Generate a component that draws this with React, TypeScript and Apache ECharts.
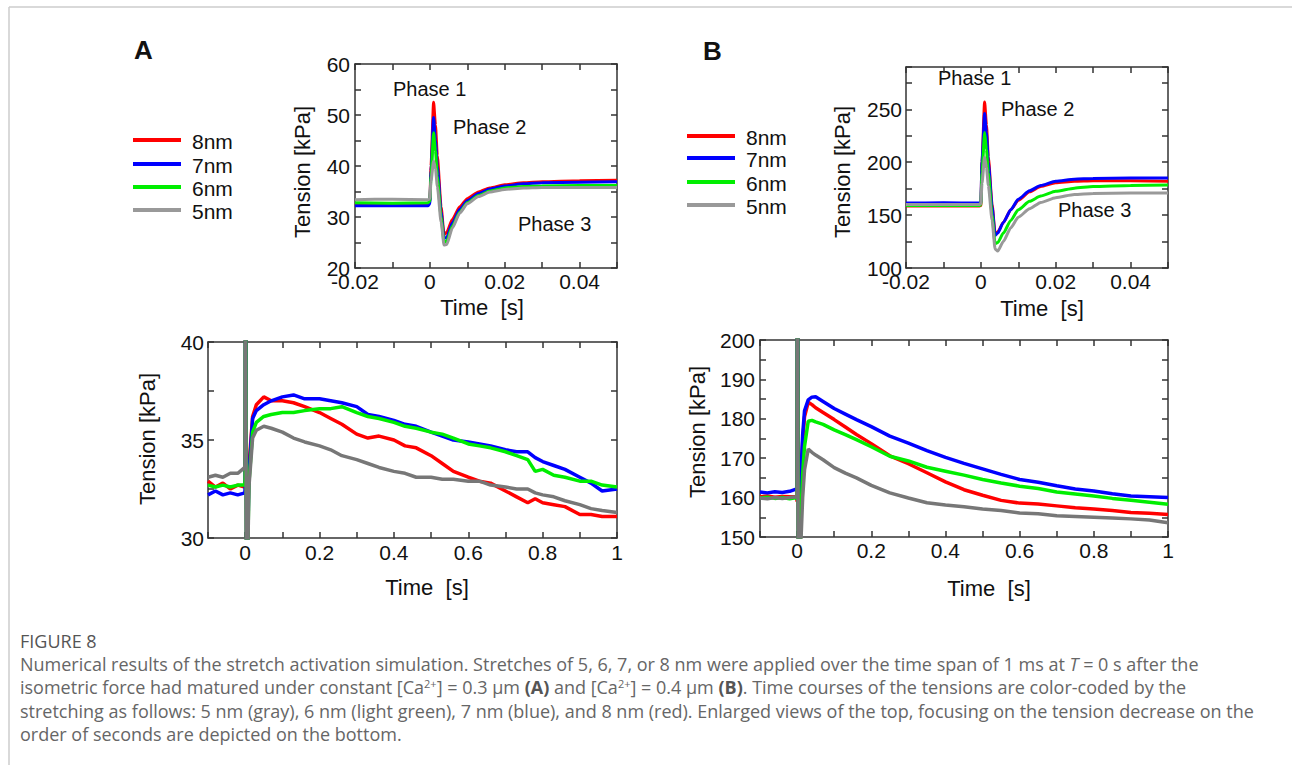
import React, { useEffect, useRef } from 'react';
import * as echarts from 'echarts';

const FONT = '"Liberation Sans", Arial, Helvetica, sans-serif';
const CAP_FONT = '"Open Sans", "Noto Sans", sans-serif';

const seriesNames = ['8nm', '7nm', '6nm', '5nm'];
const topColors = ['#ff0000', '#0000ff', '#00ee00', '#999999'];
const botColors = ['#ff0000', '#0000ff', '#00ee00', '#777777'];

// ---- top panels (short time scale, seconds) ----
const topTime = [-0.02, -0.01, -0.0005, 0, 0.0003, 0.001, 0.0015, 0.002, 0.003, 0.0038, 0.0045, 0.006, 0.008, 0.01, 0.013, 0.016, 0.02, 0.025, 0.03, 0.04, 0.05];
const topA8 = [32.5, 32.6, 32.5, 33.0, 40, 52.5, 48, 42, 32, 26.5, 27, 29.5, 32, 33.6, 34.9, 35.7, 36.3, 36.7, 36.9, 37.1, 37.2];
const topA7 = [32.2, 32.2, 32.2, 32.6, 39, 49.5, 45, 40, 31, 25.8, 26, 28.8, 31.5, 33.2, 34.6, 35.5, 36.1, 36.5, 36.7, 36.8, 36.9];
const topA6 = [32.8, 32.7, 32.8, 33.1, 38, 46.5, 43, 38, 30, 25, 25.3, 28.2, 31, 32.8, 34.2, 35.1, 35.7, 36.0, 36.1, 36.2, 36.2];
const topA5 = [33.4, 33.5, 33.4, 33.6, 37, 41, 39.5, 36, 29, 24.5, 24.6, 27.8, 30.8, 32.6, 34.0, 34.9, 35.4, 35.7, 35.8, 35.8, 35.8];

const topB8 = [158.5, 158.6, 158.5, 159, 200, 257, 235, 205, 160, 133, 134, 143, 155, 164, 172, 177, 180.5, 182, 182.5, 182.5, 182];
const topB7 = [161.5, 161.6, 161.5, 162, 200, 246, 228, 200, 158, 131, 133, 143, 155, 165, 173, 178, 182, 184, 184.5, 185, 185];
const topB6 = [159, 159, 159, 159.5, 190, 228, 212, 190, 150, 123, 124, 133, 145, 155, 163, 168, 172.5, 175.5, 177, 178, 178.5];
const topB5 = [160, 160.1, 160, 160.5, 180, 205, 195, 178, 145, 118, 116, 125, 138, 148, 156, 162, 166.5, 169.5, 170.5, 171, 171];

// ---- bottom panel A (long time scale) ----
const botTimeA = [-0.1, -0.08, -0.06, -0.04, -0.02, -0.001, 0, 0.001, 0.002, 0.004, 0.006, 0.01, 0.02, 0.03, 0.05, 0.07, 0.1, 0.13, 0.16, 0.2, 0.23, 0.26, 0.3, 0.33, 0.36, 0.4, 0.43, 0.46, 0.5, 0.53, 0.56, 0.6, 0.63, 0.66, 0.7, 0.73, 0.76, 0.78, 0.8, 0.83, 0.86, 0.9, 0.93, 0.96, 1.0];
const botA8 = [32.9, 32.6, 32.8, 32.5, 32.7, 32.6, 33.0, 52, 42, 26.8, 29.5, 33.6, 36.2, 36.8, 37.2, 37.0, 37.0, 36.9, 36.7, 36.4, 36.1, 35.8, 35.3, 35.1, 35.2, 35.0, 34.7, 34.6, 34.2, 33.8, 33.4, 33.1, 32.9, 32.8, 32.4, 32.1, 31.8, 32.0, 31.8, 31.7, 31.6, 31.2, 31.2, 31.1, 31.1];
const botA7 = [32.2, 32.4, 32.2, 32.3, 32.2, 32.3, 32.6, 49.5, 40, 26, 28.8, 33.2, 36.1, 36.5, 36.8, 37.0, 37.2, 37.3, 37.1, 37.1, 37.0, 36.9, 36.7, 36.3, 36.2, 36.0, 35.8, 35.7, 35.4, 35.2, 35.0, 34.9, 34.8, 34.7, 34.5, 34.4, 34.4, 34.1, 33.9, 33.7, 33.5, 33.1, 32.8, 32.4, 32.5];
const botA6 = [32.7, 32.6, 32.7, 32.6, 32.7, 32.7, 33.1, 46.5, 38, 25.2, 28.2, 32.8, 35.4, 35.9, 36.2, 36.3, 36.4, 36.4, 36.5, 36.6, 36.6, 36.7, 36.4, 36.2, 36.1, 35.9, 35.7, 35.6, 35.4, 35.3, 35.1, 34.8, 34.7, 34.6, 34.4, 34.2, 34.0, 33.4, 33.5, 33.2, 33.1, 32.9, 32.9, 32.7, 32.6];
const botA5 = [33.1, 33.2, 33.1, 33.3, 33.3, 33.6, 33.8, 41, 36, 24.5, 27.8, 32.6, 35.1, 35.5, 35.7, 35.6, 35.4, 35.1, 34.9, 34.7, 34.5, 34.2, 34.0, 33.8, 33.6, 33.4, 33.3, 33.1, 33.1, 33.0, 33.0, 32.9, 32.9, 32.7, 32.6, 32.5, 32.5, 32.3, 32.2, 32.1, 31.9, 31.7, 31.5, 31.4, 31.3];

// ---- bottom panel B (long time scale) ----
const botTimeB = [-0.1, -0.08, -0.06, -0.04, -0.02, -0.001, 0, 0.001, 0.002, 0.004, 0.006, 0.01, 0.015, 0.02, 0.03, 0.04, 0.05, 0.07, 0.1, 0.13, 0.16, 0.2, 0.25, 0.3, 0.35, 0.4, 0.45, 0.5, 0.55, 0.6, 0.65, 0.7, 0.75, 0.8, 0.85, 0.9, 0.95, 1.0];
const botB8 = [160.2, 160.4, 160.1, 160.3, 160.2, 160.3, 159, 257, 205, 133, 143, 164, 174, 180.5, 184.2, 183.6, 182.8, 181.6, 179.8, 177.9, 176, 173.7, 170.6, 168.6, 166.3, 164, 162, 160.6, 159.3, 158.6, 158.4, 157.9, 157.4, 157.1, 156.7, 156.2, 156, 155.7];
const botB7 = [161.4, 161.2, 161.5, 161.3, 161.6, 162.2, 162, 246, 200, 131, 143, 165, 176, 182, 184.8, 185.5, 185.6, 184.4, 182.6, 181.2, 179.8, 178, 175.6, 173.8, 171.9, 170.2, 168.7, 167.3, 165.9, 164.6, 163.9, 163, 162.2, 161.7, 161, 160.4, 160.2, 160];
const botB6 = [159.9, 160.1, 159.8, 160, 159.7, 160, 159.5, 228, 190, 123, 133, 155, 166, 173, 179.4, 179.6, 179.2, 178.6, 177.2, 176, 174.7, 172.9, 170.5, 169.3, 167.7, 166.7, 165.7, 164.6, 163.7, 162.9, 162.3, 161.4, 160.9, 160.4, 159.8, 159.3, 158.8, 158.3];
const botB5 = [159.9, 159.7, 160, 159.8, 160, 160.2, 160.5, 205, 178, 116, 125, 148, 160, 167, 172.3, 171.5, 170.8, 169.6, 167.6, 166.2, 165, 163.1, 161.2, 159.9, 158.7, 158.1, 157.7, 157.1, 156.7, 156.1, 155.9, 155.4, 155.2, 155, 154.8, 154.6, 154.3, 153.6];

const captionTitle = 'FIGURE 8';
const captionLines = [
  'Numerical results of the stretch activation simulation. Stretches of 5, 6, 7, or 8 nm were applied over the time span of 1 ms at {i|T} = 0 s after the',
  'isometric force had matured under constant [Ca{sup|2+}] = 0.3 μm {b|(A)} and [Ca{sup|2+}] = 0.4 μm {b|(B)}. Time courses of the tensions are color-coded by the',
  'stretching as follows: 5 nm (gray), 6 nm (light green), 7 nm (blue), and 8 nm (red). Enlarged views of the top, focusing on the tension decrease on the',
  'order of seconds are depicted on the bottom.',
];

const grids = [
  { left: 355, top: 64, width: 262, height: 204 },
  { left: 906, top: 67, width: 262, height: 201 },
  { left: 208, top: 342, width: 409, height: 196 },
  { left: 760, top: 340, width: 408, height: 197 },
];

const AX = '#333333';

function fmtTopX(v: number) {
  const k = Math.round(v * 100);
  if (k % 2 !== 0) return '';
  return k === 0 ? '0' : (k / 100).toFixed(2);
}
function fmtBotX(v: number) {
  const k = Math.round(v * 10);
  if (k < 0 || k % 2 !== 0) return '';
  if (k === 0) return '0';
  if (k === 10) return '1';
  return (k / 10).toFixed(1);
}
function stepFmt(step: number, maxLabel: number) {
  return (v: number) => {
    const r = Math.round(v / step) * step;
    if (Math.abs(r - v) > 1e-6 || v > maxLabel + 1e-6) return '';
    return String(Math.round(v));
  };
}

function axisBase(gi: number, min: number, max: number, interval: number) {
  return {
    type: 'value',
    gridIndex: gi,
    min,
    max,
    interval,
    splitLine: { show: false },
    axisLine: { show: true, onZero: false, lineStyle: { color: AX, width: 1.5 } },
    axisTick: { show: true, inside: true, length: 6, lineStyle: { color: AX, width: 1.5 } },
  };
}

function xPair(gi: number, min: number, max: number, interval: number, fmt: (v: number) => string, margin: number) {
  const b = axisBase(gi, min, max, interval);
  return [
    { ...b, position: 'bottom', axisLabel: { show: true, margin, fontSize: 21, fontFamily: FONT, color: '#111', formatter: fmt } },
    { ...b, position: 'top', axisLabel: { show: false } },
  ];
}
function yPair(gi: number, min: number, max: number, interval: number, fmt: (v: number) => string, margin: number) {
  const b = axisBase(gi, min, max, interval);
  return [
    { ...b, position: 'left', axisLabel: { show: true, margin, fontSize: 21, fontFamily: FONT, color: '#111', formatter: fmt } },
    { ...b, position: 'right', axisLabel: { show: false } },
  ];
}

function mkSeries(gi: number, time: number[], vals: number[][], colors: string[], width: number, smooth: number) {
  return vals.map((arr, si) => ({
    type: 'line',
    name: seriesNames[si],
    xAxisIndex: 2 * gi,
    yAxisIndex: 2 * gi,
    data: time.map((t, i) => [t, arr[i]]),
    showSymbol: false,
    symbol: 'none',
    clip: true,
    smooth,
    smoothMonotone: 'x',
    lineStyle: { color: colors[si], width },
    itemStyle: { color: colors[si] },
    z: 2 + si,
  }));
}

function txt(text: string, x: number, y: number, size: number, opts: any = {}) {
  return {
    type: 'text',
    x,
    y,
    rotation: opts.rotation || 0,
    style: {
      text,
      fontSize: size,
      fontFamily: opts.family || FONT,
      fontWeight: opts.weight || 'normal',
      fill: opts.fill || '#111',
      align: opts.align || 'left',
      verticalAlign: 'middle',
      rich: opts.rich,
    },
  };
}

function legend(x0: number, x1: number, tx: number, ys: number[]) {
  const els: any[] = [];
  ys.forEach((y, i) => {
    els.push({ type: 'line', shape: { x1: x0, y1: y, x2: x1, y2: y }, style: { stroke: topColors[i], lineWidth: 4 } });
    els.push(txt(seriesNames[i], tx, y + 1, 21));
  });
  return els;
}

export default function App() {
  const ref = useRef<HTMLDivElement>(null);
  useEffect(() => {
    document.body.style.margin = '0';
    const chart = echarts.init(ref.current!, null, { renderer: 'svg' });

    const xAxis = [
      ...xPair(0, -0.02, 0.05, 0.01, fmtTopX, 3),
      ...xPair(1, -0.02, 0.05, 0.01, fmtTopX, 3),
      ...xPair(2, -0.1, 1, 0.1, fmtBotX, 4),
      ...xPair(3, -0.1, 1, 0.1, fmtBotX, 3),
    ];
    const yAxis = [
      ...yPair(0, 20, 60, 5, stepFmt(10, 60), 5),
      ...yPair(1, 100, 290, 25, stepFmt(50, 250), 4),
      ...yPair(2, 30, 40, 2.5, stepFmt(5, 40), 4),
      ...yPair(3, 150, 200, 5, stepFmt(10, 200), 5),
    ];

    const series = [
      ...mkSeries(0, topTime, [topA8, topA7, topA6, topA5], topColors, 3, 0.2),
      ...mkSeries(1, topTime, [topB8, topB7, topB6, topB5], topColors, 3, 0.2),
      ...mkSeries(2, botTimeA, [botA8, botA7, botA6, botA5], botColors, 3.5, 0),
      ...mkSeries(3, botTimeB, [botB8, botB7, botB6, botB5], botColors, 3.5, 0),
    ];

    const CS = 18;
    const capRich = {
      sup: { fontSize: 11, fontFamily: CAP_FONT, fill: '#666', verticalAlign: 'top', padding: [0, 0, 7, 0] },
      b: { fontSize: CS, fontFamily: CAP_FONT, fill: '#555', fontWeight: 'bold' },
      i: { fontSize: CS, fontFamily: CAP_FONT, fill: '#666', fontStyle: 'italic' },
    };

    const graphic: any[] = [
      // page frame
      { type: 'line', shape: { x1: 9, y1: 7, x2: 1292, y2: 7 }, style: { stroke: '#cccccc', lineWidth: 1.5 } },
      { type: 'line', shape: { x1: 9, y1: 7, x2: 9, y2: 765 }, style: { stroke: '#cccccc', lineWidth: 1.5 } },
      // panel letters
      txt('A', 134, 50, 26, { weight: 'bold' }),
      txt('B', 703, 51, 26, { weight: 'bold' }),
      // legends
      ...legend(133, 181, 192, [140, 164, 187, 210]),
      ...legend(687, 735, 746, [136, 158, 182, 205]),
      // phase labels
      txt('Phase 1', 393, 89, 20),
      txt('Phase 2', 453, 127, 20),
      txt('Phase 3', 518, 224, 20),
      txt('Phase 1', 938, 78, 20),
      txt('Phase 2', 1001, 109, 20),
      txt('Phase 3', 1058, 210, 20),
      // axis titles
      txt('Time  [s]', 482, 307, 22, { align: 'center' }),
      txt('Tension [kPa]', 302, 172, 22, { align: 'center', rotation: Math.PI / 2 }),
      txt('Time  [s]', 1042, 308, 22, { align: 'center' }),
      txt('Tension [kPa]', 842, 172, 22, { align: 'center', rotation: Math.PI / 2 }),
      txt('Time  [s]', 427, 587, 22, { align: 'center' }),
      txt('Tension [kPa]', 147, 439, 22, { align: 'center', rotation: Math.PI / 2 }),
      txt('Time  [s]', 989, 588, 22, { align: 'center' }),
      txt('Tension [kPa]', 697, 432, 22, { align: 'center', rotation: Math.PI / 2 }),
      // caption
      txt(captionTitle, 20, 641, CS, { family: CAP_FONT, fill: '#555' }),
      ...captionLines.map((l, i) => txt(l, 20, 664 + i * 23.3, CS, { family: CAP_FONT, fill: '#666', rich: capRich })),
    ];

    chart.setOption({
      animation: false,
      backgroundColor: '#ffffff',
      grid: grids.map((g) => ({ ...g, containLabel: false })),
      xAxis,
      yAxis,
      series,
      graphic,
    });
    return () => chart.dispose();
  }, []);
  return <div ref={ref} style={{ width: 1292, height: 765 }} />;
}
